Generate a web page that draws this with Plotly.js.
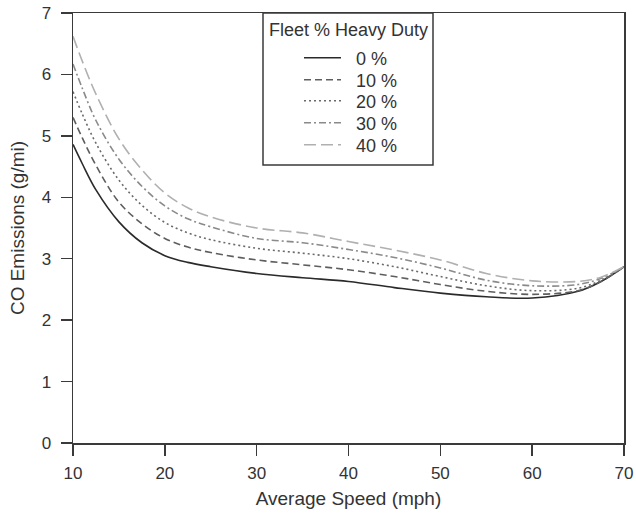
<!DOCTYPE html>
<html>
<head>
<meta charset="utf-8">
<script src="https://cdn.plot.ly/plotly-3.0.1.min.js"></script>
<style>html,body{margin:0;padding:0;background:#fff;}#chart{width:636px;height:518px;}</style>
</head>
<body>
<div id="chart"></div>
<script>
// Average speed (mph)
const speed = [10, 11, 12.5, 15, 17.5, 20, 22.5, 25, 30, 35, 40, 45, 50, 55, 60, 65, 67.5, 70];
// CO emissions (g/mi) by fleet % heavy duty
const hd0  = [4.86, 4.55, 4.12, 3.60, 3.26, 3.05, 2.94, 2.87, 2.76, 2.69, 2.63, 2.53, 2.44, 2.38, 2.36, 2.47, 2.63, 2.87];
const hd10 = [5.30, 4.97, 4.52, 3.92, 3.57, 3.33, 3.19, 3.10, 2.98, 2.90, 2.82, 2.71, 2.58, 2.47, 2.42, 2.48, 2.63, 2.87];
const hd20 = [5.72, 5.36, 4.88, 4.28, 3.87, 3.59, 3.42, 3.31, 3.17, 3.09, 3.00, 2.87, 2.71, 2.56, 2.48, 2.52, 2.65, 2.87];
const hd30 = [6.17, 5.78, 5.25, 4.62, 4.18, 3.86, 3.65, 3.52, 3.33, 3.26, 3.15, 3.02, 2.85, 2.65, 2.56, 2.58, 2.68, 2.87];
const hd40 = [6.62, 6.22, 5.68, 4.95, 4.45, 4.07, 3.83, 3.68, 3.50, 3.42, 3.28, 3.14, 2.98, 2.76, 2.64, 2.63, 2.70, 2.87];
const seriesNames = ["0 %", "10 %", "20 %", "30 %", "40 %"];
const legendTitle = "Fleet % Heavy Duty";

const values = [hd0, hd10, hd20, hd30, hd40];
const colors = ["#2a2a2a", "#5e5e5e", "#6a6a6a", "#8a8a8a", "#b0b0b0"];
const dashes = ["solid", "7px,4px", "2px,3px", "7px,3px,2px,3px", "12px,5px"];
const legendRowsPx = [58, 80, 101, 123, 145];

const fontFam = "Liberation Sans, Arial, sans-serif";
const plotL = 73, plotR = 624, plotT = 13, plotB = 443;
const pw = plotR - plotL, ph = plotB - plotT;
const px2x = p => (p - plotL) / pw;
const px2y = p => 1 - (p - plotT) / ph;

const traces = values.map((v, i) => ({
  x: speed, y: v, name: "\u00a0\u00a0" + seriesNames[i], type: "scatter", mode: "lines",
  legend: i === 0 ? "legend" : "legend" + (i + 1),
  line: {color: colors[i], width: 1.6, dash: dashes[i], shape: "spline", smoothing: 1}
}));

const axisCommon = {
  showgrid: false, zeroline: false, showline: true, mirror: true,
  linecolor: "#3a3a3a", linewidth: 1.5, ticks: "outside", ticklen: 11,
  tickwidth: 1.5, tickcolor: "#3a3a3a",
  tickfont: {family: fontFam, size: 17, color: "#333"}
};

const layout = {
  width: 636, height: 518,
  margin: {l: plotL, r: 636 - plotR, t: plotT, b: 518 - plotB},
  paper_bgcolor: "#fff", plot_bgcolor: "#fff",
  font: {family: fontFam, color: "#333"},
  xaxis: Object.assign({}, axisCommon, {
    range: [10, 70], dtick: 10, tick0: 10, ticklabelstandoff: 3,
    title: {text: "Average Speed (mph)", font: {family: fontFam, size: 19, color: "#333"}, standoff: 10}
  }),
  yaxis: Object.assign({}, axisCommon, {
    range: [0, 7], dtick: 1, tick0: 0, ticklabelstandoff: 6,
    title: {text: "CO Emissions (g/mi)", font: {family: fontFam, size: 19, color: "#333"}, standoff: 12}
  }),
  showlegend: true,
  shapes: [{
    type: "rect", xref: "paper", yref: "paper",
    x0: px2x(263), x1: px2x(433), y0: px2y(165), y1: 1,
    line: {color: "#3a3a3a", width: 1.5}, fillcolor: "rgba(0,0,0,0)", layer: "above"
  }],
  annotations: [{
    text: legendTitle, xref: "paper", yref: "paper",
    x: px2x(348.5), y: px2y(30), xanchor: "center", yanchor: "middle",
    showarrow: false, font: {family: fontFam, size: 18, color: "#333"}
  }]
};

legendRowsPx.forEach((py, i) => {
  const key = i === 0 ? "legend" : "legend" + (i + 1);
  layout[key] = {
    x: px2x(299), y: px2y(py), xanchor: "left", yanchor: "middle",
    bgcolor: "rgba(0,0,0,0)", borderwidth: 0, itemwidth: 37,
    font: {family: fontFam, size: 18, color: "#333"}
  };
});

Plotly.newPlot("chart", traces, layout, {displayModeBar: false, staticPlot: true});
</script>
</body>
</html>
